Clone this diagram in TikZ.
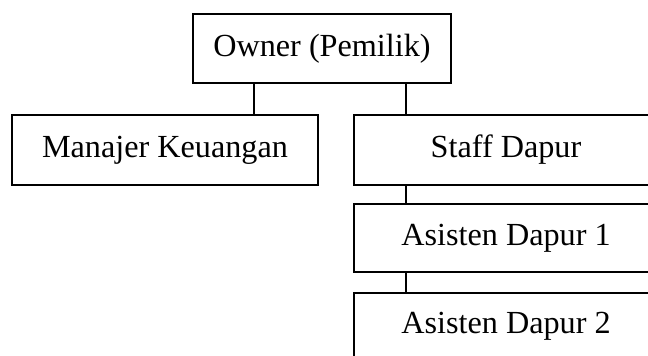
\documentclass[tikz,border=0pt]{standalone}
\usepackage{fontspec}
\setmainfont{Liberation Serif}
\begin{document}
\begin{tikzpicture}[x=1pt,y=1pt,
  orgbox/.style={draw=black, line width=2pt, rectangle, inner sep=0pt, align=center,
    font=\fontsize{32.2}{36}\selectfont},
  link/.style={draw=black, line width=2pt}]
\clip (0,0) rectangle (648,-356);
\useasboundingbox (0,0) rectangle (648,-356);
\node[orgbox, minimum width=258pt, minimum height=69pt] (owner) at (322,-48.5) {Owner (Pemilik)};
\node[orgbox, minimum width=306pt, minimum height=70pt] (man) at (165,-150) {Manajer Keuangan};
\node[orgbox, minimum width=304pt, minimum height=70pt] (staff) at (506,-150) {Staff Dapur};
\node[orgbox, minimum width=304pt, minimum height=68pt] (as1) at (506,-238) {Asisten Dapur 1};
\node[orgbox, minimum width=304pt, minimum height=66pt] (as2) at (506,-326) {Asisten Dapur 2};
\coordinate (mx) at (254,0);
\coordinate (sx) at (406,0);
\draw[link] (owner.south -| mx) -- (man.north -| mx);
\draw[link] (owner.south -| sx) -- (staff.north -| sx);
\draw[link] (staff.south -| sx) -- (as1.north -| sx);
\draw[link] (as1.south -| sx) -- (as2.north -| sx);
\end{tikzpicture}
\end{document}
